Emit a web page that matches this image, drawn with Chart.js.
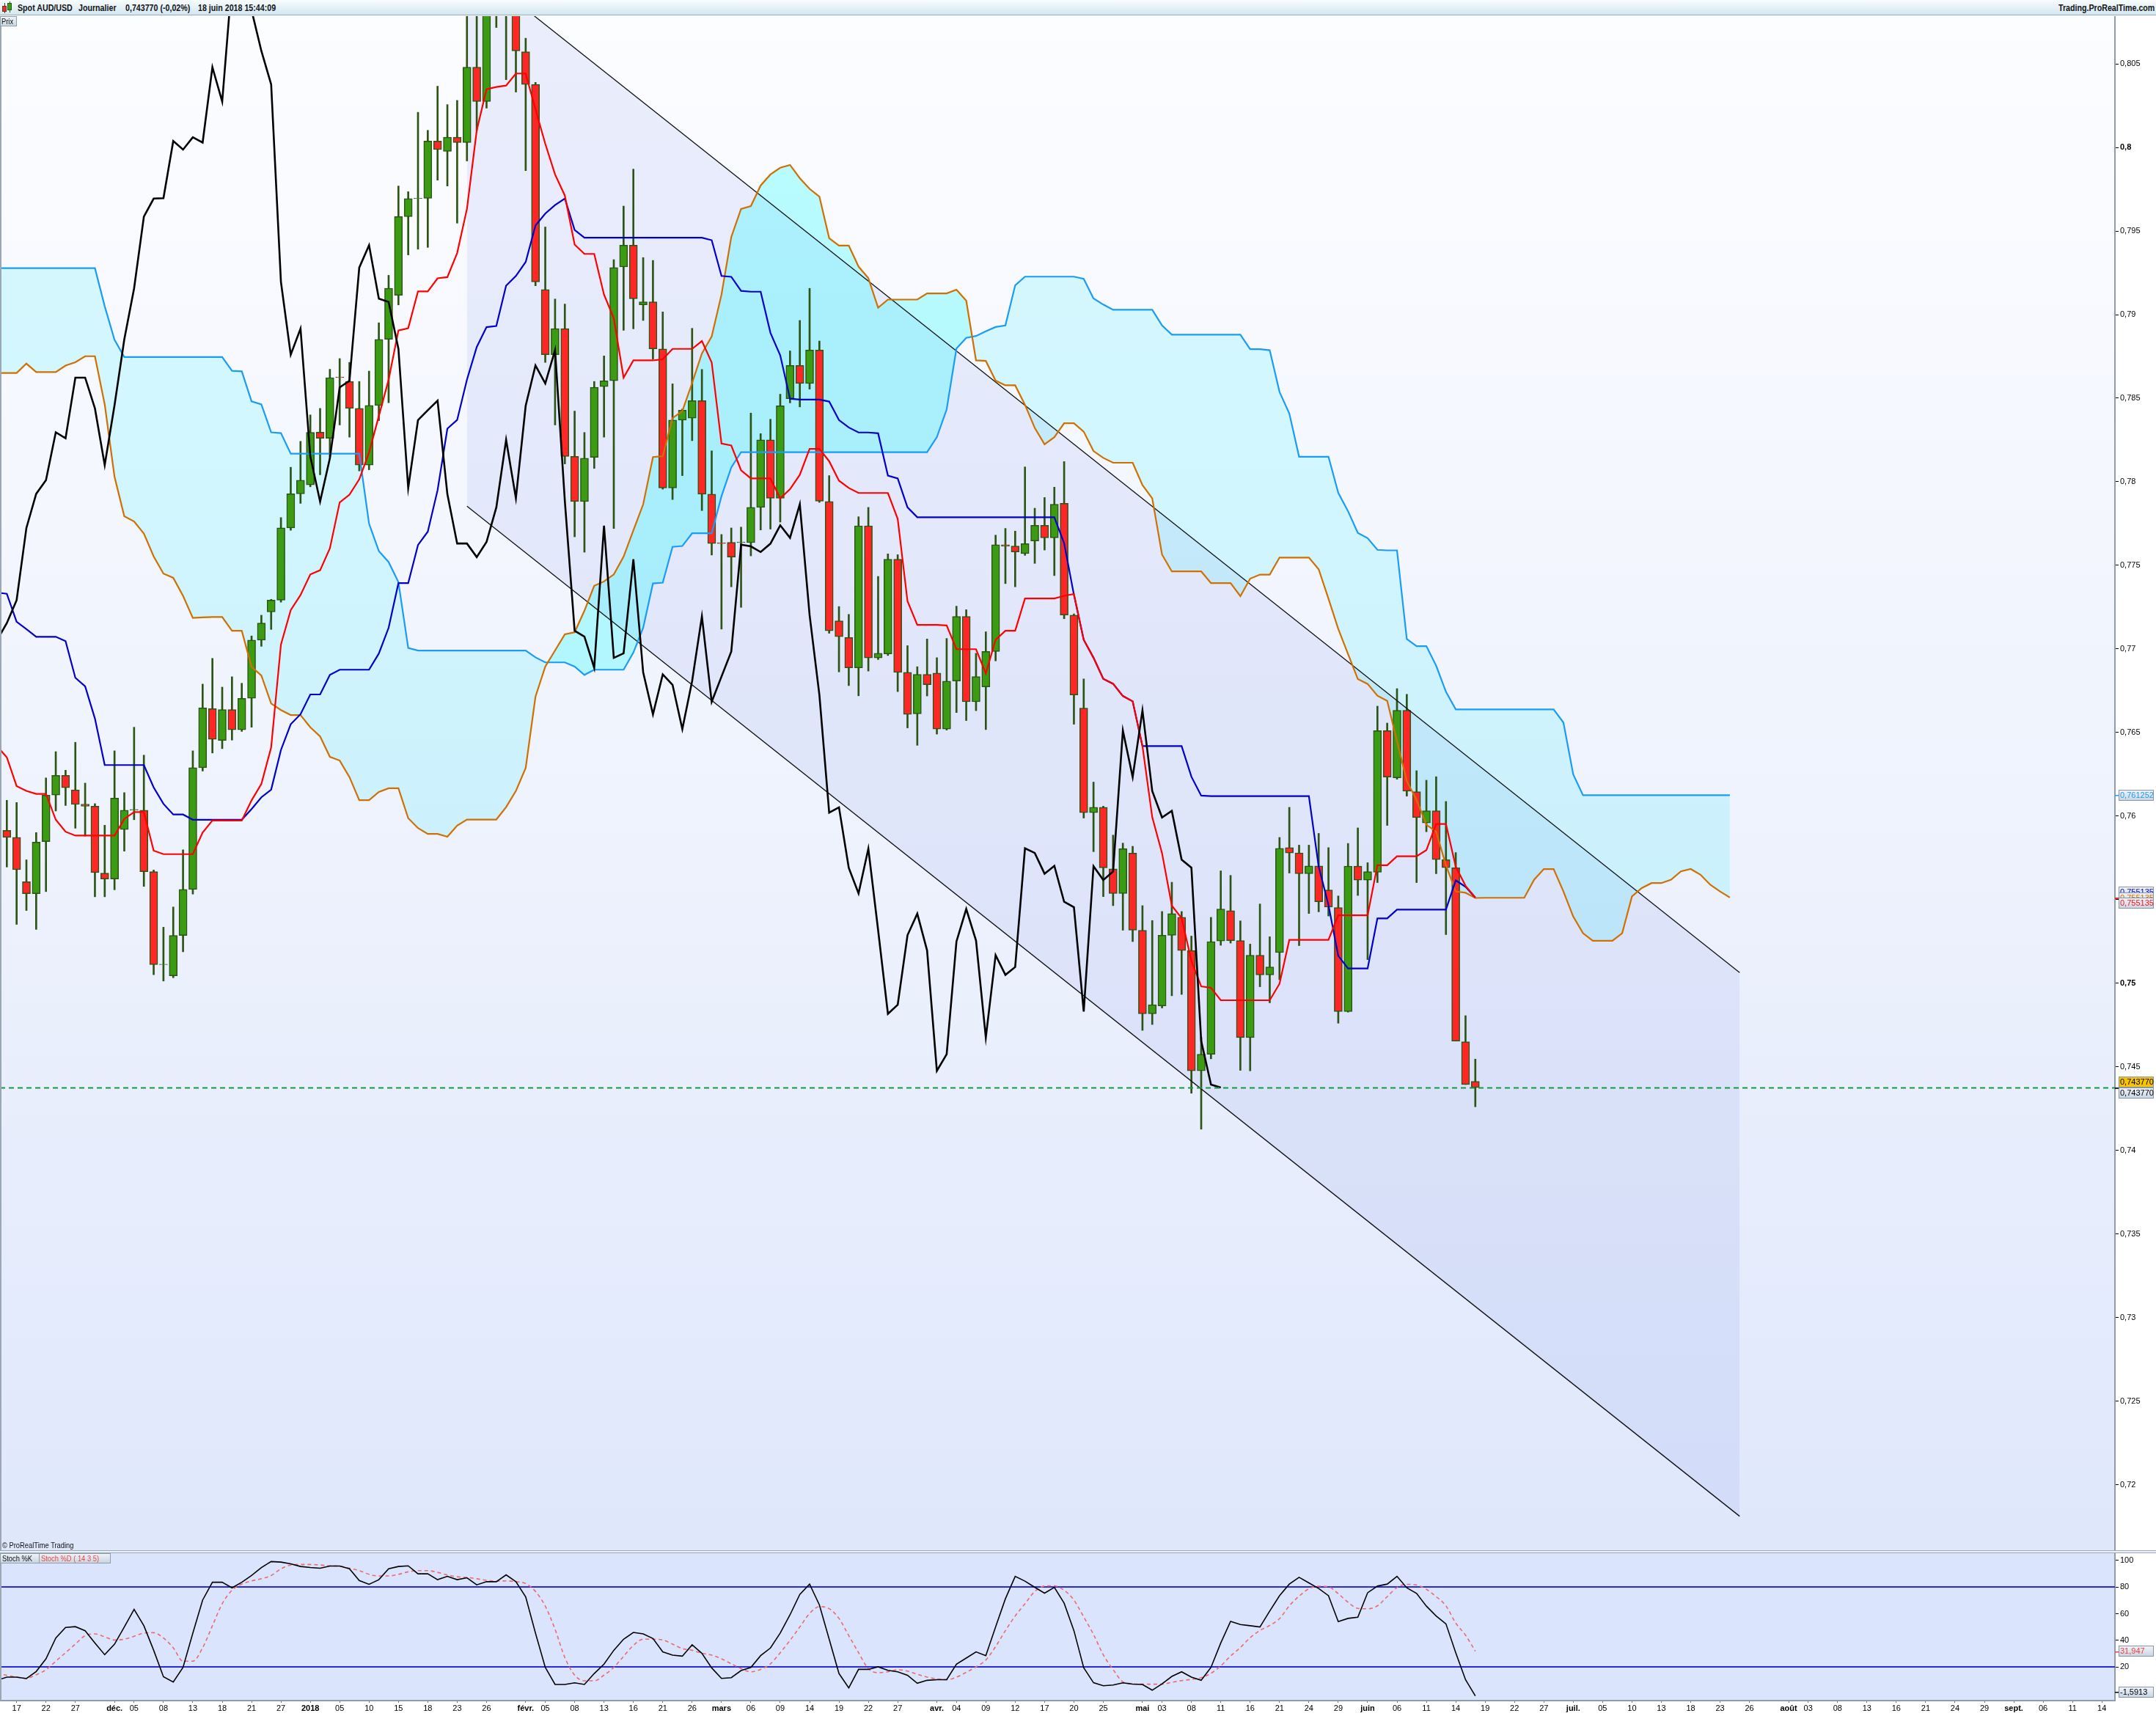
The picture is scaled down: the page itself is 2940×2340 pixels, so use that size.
<!DOCTYPE html>
<html><head><meta charset="utf-8"><title>Spot AUD/USD</title>
<script src="https://cdn.jsdelivr.net/npm/chart.js@4.4.1/dist/chart.umd.min.js"></script>
<style>
html,body{margin:0;padding:0;background:#fff;}
#page{position:relative;width:2940px;height:2340px;overflow:hidden;background:#fff;}
.abs{position:absolute;}
#hdr{left:0;top:0;width:2940px;height:21px;background:linear-gradient(#f8fcfe,#d2e7f0);border-bottom:1px solid #98adbd;box-sizing:border-box;}
.ht{position:absolute;top:3px;font-family:"Liberation Sans",Arial,sans-serif;font-weight:bold;font-size:13px;line-height:15px;color:#151515;transform:scaleX(0.82);transform-origin:0 0;white-space:pre;}
.sm{position:absolute;font-family:"Liberation Sans",Arial,sans-serif;font-size:11px;line-height:13px;color:#111;transform:scaleX(0.85);transform-origin:0 0;white-space:pre;}
#prix{left:0;top:22px;width:23px;height:14px;background:linear-gradient(#eef3f7,#cbd8e3);border:1px solid #8e9fae;box-sizing:border-box;}
#sep{left:0;top:2114px;width:2940px;height:4px;background:#eef2f8;border-top:1px solid #9aa7b4;border-bottom:1px solid #9aa7b4;box-sizing:border-box;}
.lg{position:absolute;top:2118px;height:14px;background:linear-gradient(#eef3f7,#c9d6e0);border:1px solid #8e9fae;box-sizing:border-box;}
</style></head>
<body><div id="page">
<canvas id="main" class="abs" width="2940" height="2092" style="left:0;top:22px;width:2940px;height:2092px;"></canvas>
<canvas id="stoch" class="abs" width="2940" height="223" style="left:0;top:2117px;width:2940px;height:223px;"></canvas>
<div id="hdr" class="abs">
  <div class="abs" style="left:6px;top:4px;width:1px;height:14px;background:#5a2a1a;"></div>
  <div class="abs" style="left:3px;top:8px;width:6px;height:8px;background:#e83030;border:1px solid #7a2a1a;box-sizing:border-box;"></div>
  <div class="abs" style="left:13px;top:2px;width:1px;height:15px;background:#2a5a12;"></div>
  <div class="abs" style="left:10px;top:4px;width:6px;height:10px;background:#3aa018;border:1px solid #2a5a12;box-sizing:border-box;"></div>
  <div class="ht" style="left:24px;">Spot AUD/USD</div>
  <div class="ht" style="left:107px;">Journalier</div>
  <div class="ht" style="left:171px;">0,743770 (-0,02%)</div>
  <div class="ht" style="left:270px;">18 juin 2018 15:44:09</div>
  <div class="ht" style="left:2807px;">Trading.ProRealTime.com</div>
</div>
<div id="prix" class="abs"></div>
<div class="sm" style="left:2px;top:23px;">Prix</div>
<div class="sm" style="left:3px;top:2101px;">© ProRealTime Trading</div>
<div id="sep" class="abs"></div>
<div class="lg" style="left:0;width:54px;"></div>
<div class="lg" style="left:53px;width:98px;"></div>
<div class="sm" style="left:3px;top:2119px;">Stoch %K</div>
<div class="sm" style="left:56px;top:2119px;color:#f04545;">Stoch %D ( 14 3 5)</div>
</div>
<script>
// ---------------- DATA ----------------
// trading-day index: 2017-11-16 = 0 (weekdays, without 25 Dec and 1 Jan)
const firstDay = '2017-11-15';          // index -1
const holidays = ['2017-12-25', '2018-01-01'];

const opens = [0.75915,0.75873,0.75608,0.75536,0.75848,0.76126,0.76244,0.76157,0.76072,0.76060,
0.75660,0.75624,0.75920,0.76036,0.76036,0.75668,0.75112,0.75045,0.75287,0.75562,
0.76290,0.76643,0.76453,0.76638,0.76517,0.76705,0.77053,0.77222,0.77292,0.77724,
0.77928,0.77982,0.78297,0.78260,0.78627,0.78600,0.78439,0.78100,0.78457,0.78852,
0.79116,0.79586,0.79694,0.79696,0.80038,0.79976,0.80061,0.80029,0.80480,0.80274,
0.80980,0.80900,0.80850,0.80572,0.80377,0.79150,0.78760,0.78916,0.78152,0.77882,
0.78146,0.78569,0.78604,0.79285,0.79415,0.79058,0.79076,0.78795,0.77963,0.78369,
0.78381,0.78485,0.77926,0.77636,0.77638,0.77636,0.77636,0.77847,0.78251,0.77902,
0.78497,0.78696,0.78588,0.78788,0.77882,0.77168,0.77069,0.76887,0.77737,0.76947,
0.76971,0.77537,0.76860,0.76612,0.76848,0.76856,0.76521,0.76808,0.77195,0.76684,
0.76773,0.76985,0.77624,0.77616,0.77571,0.77646,0.77740,0.77665,0.77871,0.77203,
0.76647,0.76021,0.76053,0.75685,0.75538,0.75779,0.75318,0.74818,0.74866,0.75288,
0.75395,0.75197,0.74477,0.74576,0.75254,0.75435,0.75256,0.74676,0.75169,0.75051,
0.75184,0.75812,0.75780,0.75656,0.75703,0.75559,0.75454,0.74832,0.75701,0.75618,
0.75665,0.76512,0.76230,0.76633,0.76147,0.75960,0.76032,0.75740,0.75692,0.74651,
0.74414];
const highs = [0.76095,0.76082,0.75739,0.75902,0.76229,0.76386,0.76275,0.76442,0.76198,0.76075,
0.75946,0.76391,0.76141,0.76532,0.76365,0.75678,0.75336,0.75457,0.75799,0.76391,
0.76790,0.76944,0.76772,0.76834,0.76795,0.77078,0.77202,0.77297,0.77786,0.78087,
0.78242,0.78400,0.78439,0.78673,0.78737,0.78714,0.78600,0.78662,0.78951,0.79235,
0.79769,0.79735,0.80210,0.80102,0.80366,0.80256,0.80281,0.80850,0.80900,0.81360,
0.81250,0.81100,0.81150,0.80653,0.80389,0.79524,0.79093,0.79063,0.78423,0.78295,
0.78600,0.78753,0.79329,0.79649,0.79870,0.79341,0.79324,0.79016,0.78586,0.78435,
0.78918,0.78672,0.78185,0.77685,0.77724,0.77729,0.78411,0.78288,0.78374,0.78524,
0.78783,0.78965,0.79157,0.78842,0.78037,0.77254,0.77207,0.77791,0.77847,0.77434,
0.77569,0.77564,0.77020,0.76894,0.77060,0.76948,0.77063,0.77256,0.77235,0.76974,
0.77103,0.77681,0.77721,0.77705,0.78089,0.77842,0.77906,0.77968,0.78121,0.77210,
0.76821,0.76204,0.76060,0.75887,0.75839,0.75820,0.75465,0.75376,0.75430,0.75605,
0.75430,0.75283,0.74678,0.75395,0.75673,0.75646,0.75374,0.75235,0.75475,0.75279,
0.75873,0.76053,0.75827,0.75827,0.75897,0.75812,0.75523,0.75837,0.75930,0.75722,
0.76658,0.76557,0.76763,0.76729,0.76272,0.76215,0.76236,0.76088,0.75783,0.74807,
0.74547];
const lows = [0.75696,0.75353,0.75436,0.75323,0.75549,0.76031,0.76064,0.75928,0.75881,0.75518,
0.75518,0.75560,0.75791,0.75979,0.75580,0.75052,0.75014,0.75034,0.75189,0.75534,
0.76270,0.76378,0.76404,0.76455,0.76507,0.76532,0.77016,0.77117,0.77280,0.77710,
0.77871,0.77970,0.78042,0.78150,0.78340,0.78267,0.78065,0.78072,0.78366,0.78473,
0.79058,0.79357,0.79391,0.79402,0.79804,0.79769,0.79547,0.79919,0.80102,0.80235,
0.80717,0.80405,0.80331,0.79861,0.79173,0.78714,0.78340,0.78107,0.77671,0.77579,
0.78080,0.78267,0.77721,0.78906,0.78915,0.78965,0.78733,0.77956,0.77894,0.78037,
0.78246,0.77828,0.77562,0.77119,0.77372,0.77249,0.77557,0.77712,0.77717,0.77759,
0.78472,0.78448,0.78554,0.77877,0.77094,0.76863,0.76781,0.76720,0.76868,0.76937,
0.76961,0.76745,0.76528,0.76424,0.76719,0.76491,0.76515,0.76620,0.76572,0.76631,
0.76518,0.76929,0.77391,0.77372,0.77560,0.77512,0.77592,0.77439,0.77181,0.76550,
0.75989,0.75788,0.75519,0.75465,0.75318,0.75250,0.74719,0.74754,0.74853,0.74926,
0.74934,0.74343,0.74128,0.74549,0.75228,0.75241,0.74480,0.74477,0.74980,0.74884,
0.75022,0.75660,0.75226,0.75418,0.75428,0.75403,0.74762,0.74828,0.75526,0.75142,
0.75603,0.75945,0.76221,0.76120,0.75603,0.75907,0.75656,0.75292,0.74655,0.74395,
0.74262];
const closes = [0.75873,0.75680,0.75536,0.75845,0.76126,0.76244,0.76170,0.76070,0.76060,0.75663,
0.75624,0.76108,0.76036,0.76040,0.75668,0.75112,0.75115,0.75287,0.75562,0.76290,
0.76648,0.76460,0.76638,0.76517,0.76705,0.77053,0.77155,0.77292,0.77724,0.77928,
0.78010,0.78296,0.78260,0.78623,0.78623,0.78439,0.78100,0.78457,0.78852,0.79157,
0.79586,0.79694,0.79696,0.80038,0.79987,0.80061,0.80029,0.80480,0.80274,0.81000,
0.80900,0.80820,0.80577,0.80377,0.79196,0.78760,0.78916,0.78152,0.77882,0.78141,
0.78565,0.78604,0.79281,0.79415,0.79095,0.79076,0.78795,0.77963,0.78369,0.78428,
0.78485,0.77926,0.77631,0.77631,0.77550,0.77640,0.77847,0.78251,0.77902,0.78455,
0.78696,0.78588,0.78788,0.77884,0.77109,0.77074,0.76887,0.77737,0.76947,0.76974,
0.77537,0.76860,0.76609,0.76848,0.76786,0.76521,0.76808,0.77195,0.76684,0.76835,
0.76985,0.77624,0.77614,0.77580,0.77630,0.77740,0.77665,0.77866,0.77203,0.76725,
0.76021,0.76053,0.75691,0.75538,0.75806,0.75318,0.74818,0.74872,0.75288,0.75417,
0.75197,0.74477,0.74576,0.75250,0.75445,0.75256,0.74676,0.75169,0.75051,0.75098,
0.75808,0.75780,0.75656,0.75703,0.75488,0.75456,0.74832,0.75701,0.75618,0.75669,
0.76512,0.76234,0.76633,0.76150,0.75992,0.76032,0.75740,0.75692,0.74655,0.74395,
0.74377];

// Ichimoku lines (first value = index -1)
const tenkan = [0.76420,
0.76352,0.76180,0.76151,0.76133,0.76133,0.75979,0.75907,0.75884,0.75884,0.75884,
0.75884,0.75884,0.75984,0.76025,0.76025,0.75794,0.75773,0.75773,0.75773,0.75773,
0.75902,0.75974,0.75974,0.75974,0.75974,0.76095,0.76193,0.76411,0.77027,0.77233,
0.77323,0.77446,0.77471,0.77602,0.77877,0.77923,0.78015,0.78175,0.78393,0.78611,
0.78905,0.78919,0.79139,0.79139,0.79217,0.79224,0.79368,0.79632,0.80102,0.80348,
0.80361,0.80370,0.80442,0.80442,0.80228,0.80022,0.79838,0.79712,0.79419,0.79363,
0.79363,0.79120,0.78978,0.78623,0.78726,0.78726,0.78726,0.78733,0.78795,0.78795,
0.78795,0.78842,0.78714,0.78229,0.78217,0.78069,0.78020,0.78020,0.78020,0.77901,
0.77956,0.78042,0.78197,0.78197,0.78123,0.78007,0.77963,0.77933,0.77933,0.77933,
0.77933,0.77778,0.77286,0.77144,0.77144,0.77144,0.77141,0.76999,0.76999,0.76999,
0.76854,0.77055,0.77109,0.77109,0.77302,0.77302,0.77302,0.77302,0.77318,0.77329,
0.77055,0.76948,0.76821,0.76792,0.76719,0.76687,0.76419,0.75994,0.75779,0.75465,
0.75390,0.75135,0.74982,0.74974,0.74899,0.74899,0.74899,0.74899,0.74899,0.74899,
0.74998,0.75260,0.75260,0.75260,0.75260,0.75260,0.75407,0.75407,0.75407,0.75407,
0.75707,0.75707,0.75760,0.75760,0.75760,0.75797,0.75953,0.75953,0.75698,0.75584,
0.755135];
const kijun = [0.77338,
0.77330,0.77163,0.77119,0.77073,0.77073,0.77073,0.77047,0.76828,0.76777,0.76584,
0.76306,0.76306,0.76306,0.76306,0.76306,0.76172,0.76074,0.76010,0.76010,0.75979,
0.75979,0.75979,0.75979,0.75979,0.75979,0.76043,0.76113,0.76159,0.76396,0.76550,
0.76610,0.76728,0.76728,0.76845,0.76876,0.76876,0.76876,0.76876,0.76973,0.77127,
0.77394,0.77394,0.77622,0.77702,0.77950,0.78318,0.78370,0.78611,0.78806,0.78925,
0.78932,0.79173,0.79231,0.79315,0.79533,0.79604,0.79655,0.79694,0.79506,0.79460,
0.79460,0.79460,0.79460,0.79460,0.79460,0.79460,0.79460,0.79460,0.79460,0.79460,
0.79460,0.79460,0.79445,0.79231,0.79226,0.79142,0.79137,0.79137,0.78891,0.78756,
0.78497,0.78492,0.78492,0.78492,0.78480,0.78369,0.78325,0.78295,0.78295,0.78290,
0.78037,0.78020,0.77847,0.77788,0.77788,0.77788,0.77788,0.77788,0.77788,0.77788,
0.77788,0.77788,0.77788,0.77788,0.77788,0.77788,0.77788,0.77788,0.77632,0.77324,
0.77055,0.76948,0.76821,0.76792,0.76719,0.76687,0.76419,0.76419,0.76419,0.76419,
0.76419,0.76236,0.76123,0.76120,0.76120,0.76120,0.76120,0.76120,0.76120,0.76120,
0.76120,0.76120,0.76120,0.76120,0.75698,0.75469,0.75165,0.75089,0.75089,0.75089,
0.75389,0.75389,0.75441,0.75441,0.75441,0.75441,0.75441,0.75441,0.75616,0.75578,
0.755135];
const senkouA = [0.78651,
0.78651,0.78651,0.78707,0.78656,0.78656,0.78656,0.78695,0.78715,0.78751,0.78751,
0.78463,0.78031,0.77794,0.77763,0.77691,0.77554,0.77451,0.77426,0.77318,0.77186,
0.77189,0.77191,0.77191,0.77109,0.77109,0.76893,0.76841,0.76674,0.76635,0.76605,
0.76605,0.76532,0.76477,0.76355,0.76333,0.76234,0.76096,0.76096,0.76145,0.76167,
0.76167,0.75988,0.75929,0.75894,0.75894,0.75877,0.75944,0.75980,0.75980,0.75980,
0.75980,0.76054,0.76151,0.76289,0.76715,0.76895,0.76991,0.77088,0.77100,0.77229,
0.77378,0.77404,0.77446,0.77552,0.77710,0.77865,0.78148,0.78153,0.78381,0.78423,
0.78591,0.78768,0.78869,0.79120,0.79464,0.79632,0.79649,0.79772,0.79838,0.79878,
0.79895,0.79816,0.79752,0.79706,0.79457,0.79413,0.79413,0.79287,0.79218,0.79041,
0.79090,0.79090,0.79090,0.79090,0.79127,0.79127,0.79127,0.79149,0.79083,0.78726,
0.78723,0.78605,0.78577,0.78577,0.78461,0.78322,0.78224,0.78267,0.78350,0.78350,
0.78300,0.78184,0.78143,0.78114,0.78114,0.78114,0.77981,0.77901,0.77565,0.77464,
0.77464,0.77464,0.77464,0.77394,0.77394,0.77394,0.77316,0.77421,0.77445,0.77445,
0.77547,0.77547,0.77547,0.77547,0.77477,0.77301,0.77120,0.76970,0.76820,0.76791,
0.76721,0.76690,0.76449,0.76211,0.76097,0.75949,0.75907,0.75707,0.75550,0.75542,
0.75511,0.75512,0.75512,0.75512,0.75512,0.75512,0.75620,0.75684,0.75684,0.75550,
0.75400,0.75300,0.75255,0.75255,0.75255,0.75300,0.75520,0.75570,0.75600,0.75600,
0.75620,0.75670,0.75684,0.75650,0.75590,0.75550,0.755135];
const senkouB = [0.79278,
0.79278,0.79278,0.79278,0.79278,0.79278,0.79278,0.79278,0.79278,0.79278,0.79278,
0.79050,0.78850,0.78746,0.78746,0.78746,0.78746,0.78746,0.78746,0.78746,0.78746,
0.78746,0.78746,0.78746,0.78664,0.78661,0.78481,0.78463,0.78296,0.78291,0.78168,
0.78168,0.78168,0.78168,0.78168,0.78168,0.78168,0.78168,0.77750,0.77586,0.77520,
0.77400,0.77006,0.76991,0.76991,0.76991,0.76991,0.76991,0.76991,0.76991,0.76991,
0.76991,0.76991,0.76991,0.76991,0.76950,0.76920,0.76920,0.76920,0.76895,0.76845,
0.76876,0.76876,0.76876,0.76876,0.76979,0.77126,0.77392,0.77397,0.77611,0.77616,
0.77692,0.77692,0.77692,0.77914,0.78086,0.78177,0.78177,0.78177,0.78177,0.78177,
0.78177,0.78177,0.78177,0.78177,0.78177,0.78177,0.78177,0.78177,0.78177,0.78177,
0.78177,0.78177,0.78177,0.78177,0.78177,0.78267,0.78433,0.78797,0.78861,0.78872,
0.78900,0.78926,0.78935,0.79175,0.79227,0.79227,0.79227,0.79227,0.79227,0.79227,
0.79214,0.79097,0.79060,0.79029,0.79029,0.79029,0.79029,0.79029,0.78935,0.78880,
0.78880,0.78880,0.78880,0.78880,0.78880,0.78880,0.78880,0.78793,0.78793,0.78787,
0.78538,0.78409,0.78150,0.78150,0.78150,0.78150,0.77934,0.77824,0.77694,0.77663,
0.77593,0.77590,0.77590,0.77060,0.77017,0.77017,0.76900,0.76744,0.76639,0.76639,
0.76639,0.76639,0.76639,0.76639,0.76639,0.76639,0.76639,0.76639,0.76639,0.76560,
0.76250,0.761252,0.761252,0.761252,0.761252,0.761252,0.761252,0.761252,0.761252,0.761252,
0.761252,0.761252,0.761252,0.761252,0.761252,0.761252,0.761252];
const chikouShift = 26;

// channel drawn on the chart (two trading-day indices and the two parallel lines)
const channelX = [47, 177];
const channelUpperY = [0.81106, 0.75065];
const channelLowerY = [0.77854, 0.71813];

// Stochastic (first value = index -1)
const stochK = [10.1,
12.5,12.5,11.4,16.7,26.2,41.8,49.7,50.3,47.3,38.1,
29.3,37.2,50.1,63.3,51.0,32.6,12.8,8.8,19.8,45.5,
70.2,83.6,83.6,79.4,83.6,88.6,94.6,99.1,98.7,97.4,
95.4,94.6,94.1,95.7,95.7,93.7,84.9,82.0,85.5,93.7,
95.4,95.9,89.9,89.9,85.5,88.0,85.5,86.9,81.6,84.0,
84.0,89.1,84.0,72.6,45.5,19.8,7.0,7.0,8.2,7.0,
15.2,22.2,32.6,40.9,46.0,44.9,41.4,31.4,29.0,28.2,
36.7,30.3,19.4,11.5,12.1,17.4,19.8,28.6,34.3,45.5,
59.2,74.5,82.2,66.6,40.9,15.2,4.4,18.3,18.3,20.2,
17.6,16.5,13.9,7.9,10.1,10.6,10.6,22.2,26.8,31.4,
28.6,50.1,71.2,88.0,84.4,79.8,75.4,79.8,67.9,47.3,
19.5,8.3,6.0,6.6,8.2,7.3,7.0,2.7,7.5,13.0,
16.5,12.5,10.1,19.8,38.1,54.3,51.9,51.0,50.1,62.0,
73.5,82.2,87.3,83.1,78.9,73.5,54.1,56.5,57.4,75.7,
80.7,82.2,88.0,79.4,75.2,65.7,58.3,52.4,30.8,10.6,
-1.5913];
const stochD = [14.8,
13.9,12.5,11.6,14.3,18.0,24.4,30.8,37.2,43.6,44.9,
42.7,40.3,40.9,43.1,45.5,45.8,41.8,34.5,24.4,24.4,
34.5,51.0,67.5,77.6,82.2,84.6,86.2,88.6,93.6,96.5,
96.9,96.9,96.5,95.9,95.6,94.1,92.3,89.5,88.3,88.3,
89.5,91.4,92.3,92.3,91.0,89.0,87.7,87.2,86.2,85.0,
84.4,84.6,84.0,82.6,76.7,65.7,48.3,27.2,14.0,9.7,
9.7,14.0,19.8,28.1,36.3,40.9,40.9,40.3,37.2,33.9,
32.6,30.4,29.0,26.2,22.5,18.9,16.5,18.3,22.5,30.8,
40.0,50.1,60.2,65.3,63.8,56.5,43.6,30.8,18.9,15.8,
16.5,18.0,17.0,14.7,12.5,11.2,10.6,12.5,16.1,20.2,
25.3,35.4,47.3,58.3,67.5,76.7,80.7,80.9,77.6,70.2,
57.6,44.5,29.2,18.2,9.0,7.5,7.2,7.2,7.2,8.6,
9.9,10.8,12.1,15.4,20.9,28.3,34.7,42.0,47.5,51.2,
56.3,65.9,73.2,78.7,80.6,80.2,75.0,68.6,64.0,63.7,
65.9,72.8,79.6,82.0,81.5,78.3,72.8,65.9,53.0,43.9,
31.947];
const stochLevels = [80, 20];

// axis ticks
const priceTicks = [0.72,0.725,0.73,0.735,0.74,0.745,0.75,0.755,0.76,0.765,0.77,0.775,0.78,0.785,0.79,0.795,0.8,0.805];
const stochTicks = [20, 40, 60, 80, 100];
const tickDates = ['2017-11-17','2017-11-22','2017-11-27','2017-12-01','2017-12-05','2017-12-08','2017-12-13','2017-12-18','2017-12-21','2017-12-27',
'2018-01-02','2018-01-05','2018-01-10','2018-01-15','2018-01-18','2018-01-23','2018-01-26','2018-02-01','2018-02-05','2018-02-08',
'2018-02-13','2018-02-16','2018-02-21','2018-02-26','2018-03-01','2018-03-06','2018-03-09','2018-03-14','2018-03-19','2018-03-22',
'2018-03-27','2018-04-02','2018-04-04','2018-04-09','2018-04-12','2018-04-17','2018-04-20','2018-04-25','2018-05-01','2018-05-03',
'2018-05-08','2018-05-11','2018-05-16','2018-05-21','2018-05-24','2018-05-29','2018-06-01','2018-06-06','2018-06-11','2018-06-14',
'2018-06-19','2018-06-22','2018-06-27','2018-07-02','2018-07-05','2018-07-10','2018-07-13','2018-07-18','2018-07-23','2018-07-26',
'2018-08-01','2018-08-03','2018-08-08','2018-08-13','2018-08-16','2018-08-21','2018-08-24','2018-08-29','2018-09-03','2018-09-06',
'2018-09-11','2018-09-14'];
const tickLabels = ['17','22','27','déc.','05','08','13','18','21','27',
'2018','05','10','15','18','23','26','févr.','05','08',
'13','16','21','26','mars','06','09','14','19','22',
'27','avr.','04','09','12','17','20','25','mai','03',
'08','11','16','21','24','29','juin','06','11','14',
'19','22','27','juil.','05','10','13','18','23','26',
'août','03','08','13','16','21','24','29','sept.','06',
'11','14'];
const boldLabels = ['déc.','2018','févr.','mars','avr.','mai','juin','juil.','août','sept.'];

// ---------------- SETUP ----------------
const narrowOK = (function(){
  const c = document.createElement('canvas').getContext('2d');
  c.font = '40px "Liberation Sans Narrow", monospace'; const a = c.measureText('0,761252 AUD mai').width;
  c.font = '40px monospace'; const b = c.measureText('0,761252 AUD mai').width;
  return Math.abs(a - b) > 0.5;
})();
const FAM = narrowOK ? '"Liberation Sans Narrow", "Liberation Sans", Arial, sans-serif' : '"Liberation Sans", Arial, sans-serif';
const FS = narrowOK ? 12 : 11;
Chart.defaults.font.family = FAM;
Chart.defaults.font.size = FS;
Chart.defaults.color = '#000';

const dayIndex = {};
(function(){
  let idx = -1;
  const start = new Date(firstDay + 'T00:00:00Z').getTime();
  for (let t = start; t <= Date.UTC(2018, 8, 30); t += 86400000) {
    const d = new Date(t); const wd = d.getUTCDay(); const iso = d.toISOString().slice(0, 10);
    if (wd === 0 || wd === 6 || holidays.includes(iso)) continue;
    dayIndex[iso] = idx++;
  }
})();
const tickIdx = tickDates.map(d => dayIndex[d]);

const AXIS_W = 56;
const PX_DAY = 13.35, K0_PX = 9.3, AREA_W = 2940 - AXIS_W;
const X_MIN = -K0_PX / PX_DAY, X_MAX = (AREA_W - K0_PX) / PX_DAY;
const Y_MIN = 0.716096, Y_MAX = 0.807851;
const S_MIN = -5.1, S_MAX = 105.9;

const GREEN = '#3b9c14', RED = '#ff2626', WICK = '#2c5414';
const ser = (vals, start) => vals.map((v, i) => ({x: i + start, y: v}));
const bodies = opens.map((o, i) => ({x: i, y: [o, closes[i]]}));
const wicks = lows.map((l, i) => ({x: i, y: [l, highs[i]]}));
const bodyColors = opens.map((o, i) => closes[i] >= o ? GREEN : RED);
const lastClose = closes[closes.length - 1];
const comma = (s) => String(s).replace('.', ',');

function valueBox(ctx, x, top, text, color, bg) {
  const w = 48, h = 15;
  const g = ctx.createLinearGradient(0, top, 0, top + h);
  if (bg) { g.addColorStop(0, bg); g.addColorStop(1, bg); }
  else { g.addColorStop(0, '#f3f6fa'); g.addColorStop(1, '#c7d3e2'); }
  ctx.fillStyle = g; ctx.fillRect(x, top, w, h);
  ctx.strokeStyle = '#8696a8'; ctx.lineWidth = 1; ctx.strokeRect(x + 0.5, top + 0.5, w - 1, h - 1);
  ctx.fillStyle = color; ctx.font = FS + 'px ' + FAM; ctx.textAlign = 'left'; ctx.textBaseline = 'middle';
  ctx.fillText(text, x + 2, top + h / 2 + 0.5);
}

const mainDeco = {
  id: 'mainDeco',
  beforeDraw(chart) {
    const {ctx, chartArea: a} = chart;
    const g = ctx.createLinearGradient(0, a.top, 0, a.bottom);
    g.addColorStop(0, '#fcfdff'); g.addColorStop(0.5, '#eff3fd'); g.addColorStop(1, '#dfe7fb');
    ctx.save(); ctx.fillStyle = g; ctx.fillRect(a.left, a.top, a.right - a.left, a.bottom - a.top); ctx.restore();
  },
  afterDatasetsDraw(chart) {
    const {ctx, chartArea: a, scales} = chart;
    const y = Math.round(scales.y.getPixelForValue(lastClose)) + 0.5;
    ctx.save(); ctx.strokeStyle = '#179a3e'; ctx.lineWidth = 2; ctx.setLineDash([7, 5]);
    ctx.beginPath(); ctx.moveTo(a.left, y); ctx.lineTo(a.right, y); ctx.stroke(); ctx.restore();
  },
  afterDraw(chart) {
    const {ctx, chartArea: a, scales} = chart;
    ctx.save();
    ctx.fillStyle = '#9aa7b4'; ctx.fillRect(0, 0, 2, a.bottom);
    const ys = scales.y, bx = a.right + 5;
    const items = [
      {v: senkouB[senkouB.length - 1], c: '#1a9cf5', off: -7.5},
      {v: kijun[kijun.length - 1], c: '#0000c8', off: -15},
      {v: senkouA[senkouA.length - 1], c: '#d07000', off: -7},
      {v: tenkan[tenkan.length - 1], c: '#ff1010', off: 0},
      {v: lastClose, c: '#000', off: -15, bg: '#f6c400'},
      {v: lastClose, c: '#000', off: 0}
    ];
    items.forEach(it => {
      const y = ys.getPixelForValue(it.v);
      ctx.fillStyle = it.c; ctx.fillRect(a.right, Math.round(y), 5, 1.5);
      valueBox(ctx, bx, Math.round(y + it.off), comma(it.v.toFixed(6)), it.c, it.bg);
    });
    ctx.restore();
  }
};

const stochDeco = {
  id: 'stochDeco',
  beforeDraw(chart) {
    const {ctx, chartArea: a} = chart;
    ctx.save(); ctx.fillStyle = '#dae4fd'; ctx.fillRect(a.left, a.top, a.right - a.left, a.bottom - a.top); ctx.restore();
  },
  beforeDatasetsDraw(chart) {
    const {ctx, chartArea: a, scales} = chart;
    ctx.save(); ctx.strokeStyle = '#2a2ae2'; ctx.lineWidth = 2;
    stochLevels.forEach(l => { const y = Math.round(scales.y.getPixelForValue(l)); ctx.beginPath(); ctx.moveTo(a.left, y); ctx.lineTo(a.right, y); ctx.stroke(); });
    ctx.restore();
  },
  afterDraw(chart) {
    const {ctx, chartArea: a, scales} = chart;
    ctx.save();
    ctx.fillStyle = '#9aa7b4'; ctx.fillRect(0, 0, 2, a.bottom);
    const ys = scales.y, bx = a.right + 5;
    const d = stochD[stochD.length - 1], k = stochK[stochK.length - 1];
    let yd = ys.getPixelForValue(d); valueBox(ctx, bx, Math.round(yd - 7.5), comma(d), '#f03c3c');
    ctx.fillStyle = '#f03c3c'; ctx.fillRect(a.right, Math.round(yd), 5, 1.5);
    let yk = ys.getPixelForValue(k); const top = Math.min(Math.round(yk - 7.5), a.bottom - 19);
    valueBox(ctx, bx, top, comma(k), '#000');
    ctx.fillStyle = '#000'; ctx.fillRect(a.right, Math.round(top + 7), 5, 1.5);
    ctx.restore();
  }
};

const lineDs = (data, color, width, order, extra) => Object.assign({type: 'line', data, borderColor: color, borderWidth: width, pointRadius: 0, pointHoverRadius: 0, fill: false, tension: 0, order}, extra || {});

new Chart(document.getElementById('main'), {
  type: 'line',
  data: {datasets: [
    lineDs(channelX.map((x, i) => ({x, y: channelUpperY[i]})), '#111', 1.3, 5, {fill: '+1', backgroundColor: 'rgba(140,160,235,0.16)'}),
    lineDs(channelX.map((x, i) => ({x, y: channelLowerY[i]})), '#111', 1.3, 5),
    lineDs(ser(senkouA, -1), '#d07000', 2.2, 4, {fill: {target: '+1', above: 'rgba(0,255,255,0.26)', below: 'rgba(0,240,255,0.14)'}}),
    lineDs(ser(senkouB, -1), '#1a9cf5', 2.2, 4),
    {type: 'bar', data: wicks, backgroundColor: WICK, barThickness: 2, grouped: false, order: 7},
    {type: 'bar', data: bodies, backgroundColor: bodyColors, borderColor: WICK, borderWidth: 1.5, borderSkipped: false, barThickness: 11, grouped: false, order: 6},
    lineDs(ser(kijun, -1), '#0000c8', 2.2, 3),
    lineDs(ser(tenkan, -1), '#ff0000', 2.2, 2),
    lineDs(closes.map((v, i) => ({x: i - chikouShift, y: v})), '#000', 2.6, 1)
  ]},
  options: {
    responsive: false, animation: false, devicePixelRatio: 1,
    layout: {padding: 0},
    events: [],
    plugins: {legend: {display: false}, tooltip: {enabled: false}, filler: {drawTime: 'beforeDatasetsDraw'}},
    scales: {
      x: {type: 'linear', min: X_MIN, max: X_MAX, display: false, offset: false},
      y: {type: 'linear', position: 'right', min: Y_MIN, max: Y_MAX,
        afterBuildTicks(s) { s.ticks = priceTicks.map(v => ({value: v})); },
        afterFit(s) { s.width = AXIS_W; s.paddingTop = 0; s.paddingBottom = 0; },
        ticks: {padding: 2, color: '#000', callback: v => comma(+v.toFixed(3)),
          font: ctx => ({family: FAM, size: FS, weight: (ctx.tick && Math.abs(ctx.tick.value * 20 - Math.round(ctx.tick.value * 20)) < 1e-6) ? 'bold' : 'normal'})},
        grid: {drawOnChartArea: false, drawTicks: true, tickLength: 5, color: '#000', lineWidth: 1},
        border: {display: true, color: '#8e9cab', width: 2}
      }
    }
  },
  plugins: [mainDeco]
});

new Chart(document.getElementById('stoch'), {
  type: 'line',
  data: {datasets: [
    lineDs(ser(stochK, -1), '#000', 1.6, 1),
    lineDs(ser(stochD, -1), '#f06a6a', 1.6, 2, {borderDash: [5, 4], tension: 0.4, cubicInterpolationMode: 'monotone'})
  ]},
  options: {
    responsive: false, animation: false, devicePixelRatio: 1,
    layout: {padding: 0},
    events: [],
    plugins: {legend: {display: false}, tooltip: {enabled: false}},
    scales: {
      x: {type: 'linear', min: X_MIN, max: X_MAX, offset: false,
        afterBuildTicks(s) { s.ticks = tickIdx.map(v => ({value: v})); },
        afterFit(s) { s.height = 21; s.paddingLeft = 0; s.paddingRight = 0; },
        ticks: {autoSkip: false, maxRotation: 0, minRotation: 0, padding: 1, color: '#000',
          callback: (v, i) => tickLabels[i],
          font: ctx => ({family: FAM, size: FS, weight: boldLabels.includes(tickLabels[ctx.index]) ? 'bold' : 'normal'})},
        grid: {drawOnChartArea: false, drawTicks: true, tickLength: 3, color: '#6a7682', lineWidth: 1},
        border: {display: true, color: '#8e9cab', width: 2}
      },
      y: {type: 'linear', position: 'right', min: S_MIN, max: S_MAX,
        afterBuildTicks(s) { s.ticks = stochTicks.map(v => ({value: v})); },
        afterFit(s) { s.width = AXIS_W; s.paddingTop = 0; s.paddingBottom = 0; },
        ticks: {padding: 2, color: '#000', callback: v => String(v), font: {family: FAM, size: FS}},
        grid: {drawOnChartArea: false, drawTicks: true, tickLength: 5, color: '#000', lineWidth: 1},
        border: {display: true, color: '#8e9cab', width: 2}
      }
    }
  },
  plugins: [stochDeco]
});
</script>
</body></html>
